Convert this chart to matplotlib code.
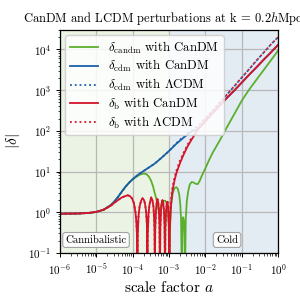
import numpy as np
import matplotlib
matplotlib.use("Agg")
import matplotlib.pyplot as plt

plt.rcParams["font.family"] = "serif"
plt.rcParams["font.serif"] = ["cmr10", "DejaVu Serif"]
plt.rcParams["mathtext.fontset"] = "cm"
plt.rcParams["axes.formatter.use_mathtext"] = True

# === dati (log10 a, |delta|) ===
loga_cdm = [-6.0, -5.5, -5.2, -5.0, -4.8, -4.6, -4.5, -4.4, -4.3, -4.2, -4.1, -4.0,
            -3.9, -3.8, -3.7, -3.6, -3.4, -3.2, -3.0, -2.8, -2.6, -2.4, -2.2, -2.0,
            -1.8, -1.6, -1.4, -1.2, -1.0, -0.8, -0.6, -0.4, -0.2, 0.0]
d_cdm = [0.92, 0.93, 0.96, 1.02, 1.15, 1.5, 1.85, 2.4, 3.2, 4.2, 5.3, 6.5,
         7.7, 9.0, 10.3, 11.8, 15.5, 22, 32, 48, 68, 94, 112, 172,
         272, 423, 655, 990, 1530, 2370, 3600, 5560, 8400, 13000]

loga_cdm_lcdm = [-6.0, -5.5, -5.2, -5.0, -4.8, -4.6, -4.5, -4.4, -4.3, -4.2, -4.1, -4.0,
                 -3.9, -3.8, -3.7, -3.6, -3.4, -3.2, -3.0, -2.8, -2.6, -2.4, -2.2, -2.0,
                 -1.8, -1.6, -1.4, -1.2, -1.0, -0.8, -0.6, -0.4, -0.2, 0.0]
d_cdm_lcdm = [0.92, 0.93, 0.96, 1.02, 1.15, 1.5, 1.85, 2.4, 3.2, 4.2, 5.3, 6.5,
              7.7, 9.0, 10.3, 11.8, 15.5, 22, 32, 50, 72, 100, 135, 200,
              315, 500, 794, 1260, 2040, 3240, 5250, 8320, 13200, 20000]

loga_b = [-6.0, -5.5, -5.2, -5.0, -4.8, -4.6, -4.5, -4.4, -4.3, -4.2, -4.14, -4.08,
          -4.02, -3.97, -3.93, -3.90, -3.88, -3.87,
          -3.86, -3.84, -3.81, -3.77, -3.73, -3.69, -3.66, -3.63, -3.61, -3.595,
          -3.585, -3.565, -3.54, -3.51, -3.49, -3.46, -3.43, -3.41, -3.40, -3.39,
          -3.38, -3.36, -3.34, -3.32, -3.30, -3.28, -3.265, -3.25,
          -3.24, -3.22, -3.20, -3.18, -3.16, -3.14, -3.125, -3.11,
          -3.10, -3.08, -3.06, -3.04, -3.02, -3.005, -2.99]
d_b = [0.92, 0.93, 0.96, 1.02, 1.15, 1.45, 1.72, 2.0, 2.3, 2.5, 2.6, 2.5,
       2.2, 1.7, 1.1, 0.6, 0.25, 0.03,
       0.3, 0.8, 1.4, 1.9, 2.2, 2.0, 1.6, 1.0, 0.5, 0.03,
       0.3, 0.9, 1.5, 2.0, 2.3, 2.0, 1.4, 0.7, 0.35, 0.03,
       0.4, 1.1, 1.7, 2.1, 1.8, 1.2, 0.5, 0.03,
       0.4, 1.1, 1.7, 2.0, 1.7, 1.1, 0.5, 0.03,
       0.4, 1.1, 1.7, 1.8, 1.2, 0.5, 0.03]
loga_b_late = [-2.98, -2.96, -2.93, -2.9, -2.85, -2.8, -2.7, -2.6, -2.5, -2.4, -2.3,
               -2.2, -2.0, -1.8, -1.6, -1.4, -1.2, -1.0, -0.8, -0.6, -0.4, -0.2, 0.0]
d_b_late = [0.35, 1.0, 2.2, 3.6, 6.0, 9.0, 16, 26, 40, 57, 79,
            108, 172, 272, 423, 655, 990, 1530, 2370, 3600, 5560, 8400, 13000]
d_b_lcdm_late = [0.6, 1.5, 2.9, 4.4, 7.2, 10.5, 18.5, 29, 44, 63, 88,
                 122, 200, 315, 500, 794, 1260, 2040, 3240, 5250, 8320, 13200, 20000]

loga_candm = [-6.0, -5.5, -5.2, -5.0, -4.8, -4.6, -4.5, -4.4, -4.3, -4.2, -4.1, -4.0,
              -3.9, -3.8, -3.7, -3.62, -3.55, -3.49, -3.44, -3.40, -3.36, -3.32, -3.29,
              -3.27, -3.24, -3.2, -3.15, -3.1, -3.06, -3.03, -3.01, -2.99,
              -2.97, -2.94, -2.9, -2.85, -2.8, -2.76, -2.72, -2.69, -2.67, -2.65,
              -2.63, -2.61, -2.59, -2.575, -2.56,
              -2.54, -2.51, -2.47, -2.43, -2.38, -2.33, -2.27, -2.21, -2.16, -2.1,
              -2.0, -1.9, -1.8, -1.6, -1.4, -1.2, -1.0, -0.8, -0.6, -0.4, -0.2, 0.0]
d_candm = [0.92, 0.93, 0.96, 1.02, 1.15, 1.5, 1.85, 2.4, 3.2, 4.2, 5.3, 6.4,
           7.4, 8.4, 8.9, 8.6, 7.4, 5.8, 4.3, 3.1, 2.3, 1.6, 1.1,
           0.9, 1.2, 1.7, 1.9, 1.9, 1.6, 1.0, 0.45, 0.03,
           0.5, 1.6, 2.9, 3.9, 4.1, 3.8, 2.7, 1.5, 0.7, 0.03,
           0.45, 0.75, 0.6, 0.3, 0.03,
           0.7, 1.9, 3.4, 4.8, 5.5, 5.4, 5.0, 4.9, 5.8, 7.8,
           12, 19, 29, 59, 126, 263, 550, 1020, 1780, 3090, 5370, 9330]

a_trans = 1.1e-3  # passaggio cannibalistic -> cold

verde = "#5ab02e"
blu = "#1a60a8"
rosso = "#d5142a"

a_cdm = 10 ** np.array(loga_cdm)
a_cdm_lcdm = 10 ** np.array(loga_cdm_lcdm)
a_b = 10 ** np.array(loga_b + loga_b_late)
a_candm = 10 ** np.array(loga_candm)

fig = plt.figure(figsize=(3, 3), dpi=100)
ax = fig.add_axes([0.2, 0.157, 0.727, 0.743])

ax.axvspan(1e-6, a_trans, color="#ebf3e4", zorder=0, lw=0)
ax.axvspan(a_trans, 1, color="#e3ebf3", zorder=0, lw=0)
ax.grid(True, which="major", color="#b8b8b8", lw=0.9, zorder=1)

lw = 1.3
ax.plot(a_candm, d_candm, color=verde, lw=lw, label=r"$\delta_{\rm candm}$ with CanDM", zorder=2)
ax.plot(a_cdm, d_cdm, color=blu, lw=lw, label=r"$\delta_{\rm cdm}$ with CanDM", zorder=2)
ax.plot(a_cdm_lcdm, d_cdm_lcdm, color=blu, lw=lw, ls=":", label=r"$\delta_{\rm cdm}$ with $\Lambda$CDM", zorder=2)
ax.plot(a_b, d_b + d_b_late, color=rosso, lw=lw, label=r"$\delta_{\rm b}$ with CanDM", zorder=2)
ax.plot(a_b, d_b + d_b_lcdm_late, color=rosso, lw=lw, ls=":", label=r"$\delta_{\rm b}$ with $\Lambda$CDM", zorder=2)

ax.set_xscale("log")
ax.set_yscale("log")
ax.set_xlim(1e-6, 1)
ax.set_ylim(1e-1, 3e4)
ax.set_xticks([1e-6, 1e-5, 1e-4, 1e-3, 1e-2, 1e-1, 1])
ax.set_yticks([1e-1, 1, 1e1, 1e2, 1e3, 1e4])
ax.tick_params(labelsize=8, length=3, width=0.7)
ax.tick_params(which="minor", length=1.8, width=0.5)
for s in ax.spines.values():
    s.set_linewidth(0.9)

ax.set_xlabel(r"scale factor $a$", fontsize=11, labelpad=2)
ax.set_ylabel(r"$|\delta|$", fontsize=11, labelpad=4)
ax.set_title(r"CanDM and LCDM perturbations at k = 0.2$h$Mpc$^{-1}$", fontsize=9, pad=5)

box = dict(boxstyle="round,pad=0.25", fc="white", ec="#999999", lw=0.8, alpha=0.9)
ax.text(0.025, 0.058, "Cannibalistic", transform=ax.transAxes, fontsize=7.8,
        va="center", ha="left", bbox=box, zorder=5)
ax.text(0.766, 0.058, "Cold", transform=ax.transAxes, fontsize=7.8,
        va="center", ha="center", bbox=box, zorder=5)

ax.legend(loc="upper left", fontsize=9.2, framealpha=0.85, handlelength=2.2,
          borderpad=0.35, labelspacing=0.2, fancybox=True, borderaxespad=0.4)

fig.savefig("out.png", dpi=100)
